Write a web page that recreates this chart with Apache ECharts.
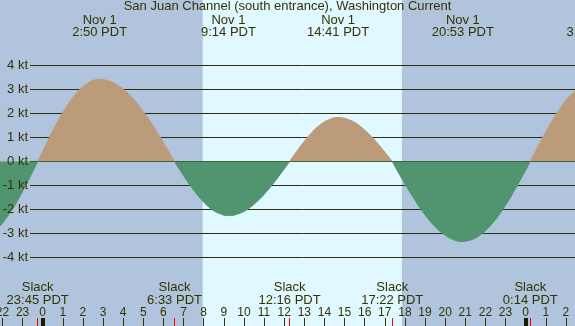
<!DOCTYPE html>
<html lang="en">
<head>
    <meta charset="UTF-8">
    <title>San Juan Channel Current</title>
    <script src="https://cdn.jsdelivr.net/npm/echarts@6.0.0/dist/echarts.min.js"></script>
    <style>
        html, body { margin: 0; padding: 0; background: #b0c4de; }
    </style>
</head>
<body>
<div id="main" style="width:575px;height:326px;"></div>
<script>
    // hours from local midnight Nov 1, current speed in knots
    var hours = [-2.5, -2.12, -2.0, -1.5, -1.0, -0.5, -0.25, 0, 0.5, 1, 1.5, 2, 2.5, 2.83, 3, 3.5, 4, 4.5, 5, 5.5, 6, 6.55,
        7, 7.5, 8, 8.5, 9, 9.23, 9.5, 10, 10.5, 11, 11.5, 12, 12.27, 12.5, 13, 13.5, 14, 14.5, 14.68, 15, 15.5, 16, 16.5, 17,
        17.37, 17.5, 18, 18.5, 19, 19.5, 20, 20.5, 20.88, 21, 21.5, 22, 22.5, 23, 23.5, 24, 24.23, 24.5, 25, 25.5, 26, 26.5];
    var speed = [-2.98, -2.68, -2.57, -1.98, -1.24, -0.43, 0, 0.43, 1.28, 2.03, 2.66, 3.12, 3.37, 3.42, 3.41, 3.28, 3.01, 2.61, 2.08, 1.47, 0.79, 0,
        -0.59, -1.19, -1.69, -2.05, -2.23, -2.25, -2.23, -2.08, -1.78, -1.37, -0.87, -0.31, 0, 0.28, 0.84, 1.32, 1.65, 1.82, 1.83, 1.80, 1.63, 1.31, 0.89, 0.39,
        0, -0.20, -0.93, -1.61, -2.22, -2.71, -3.07, -3.28, -3.33, -3.32, -3.19, -2.88, -2.42, -1.82, -1.12, -0.36, 0, 0.44, 1.23, 1.94, 2.54, 2.98];

    // slack water
    var slackHours = [-0.25, 6.55, 12.27, 17.37, 24.23];
    var slackTimes = ['23:45', '6:33', '12:16', '17:22', '0:14'];

    // max flood / ebb
    var peakHours = [2.83, 9.23, 14.68, 20.88, 27.4];
    var peakDays = ['Nov 1', 'Nov 1', 'Nov 1', 'Nov 1', 'Nov 2'];
    var peakTimes = ['2:50', '9:14', '14:41', '20:53', '3:24'];

    // daylight
    var sunrise = 7.95;
    var sunset = 17.85;

    var hourTicks = [-2, -1, 0, 1, 2, 3, 4, 5, 6, 7, 8, 9, 10, 11, 12, 13, 14, 15, 16, 17, 18, 19, 20, 21, 22, 23, 24, 25, 26];
    var midnights = [0, 24];

    var textColor = '#333300';
    var font = 'Liberation Sans';

    function nearest(arr, v) {
        var best = 0;
        for (var i = 1; i < arr.length; i++) {
            if (Math.abs(arr[i] - v) < Math.abs(arr[best] - v)) best = i;
        }
        return best;
    }

    var myChart = echarts.init(document.getElementById('main'));

    var data = hours.map(function (h, i) { return [h, speed[i]]; });

    // all x axes of the main grid share one scale
    function timeAxis(extra) {
        var ax = {
            type: 'value', gridIndex: 0, min: -4.11, max: 28.44, position: 'bottom',
            splitLine: {show: false}, axisLine: {show: false, onZero: false}
        };
        for (var k in extra) ax[k] = extra[k];
        return ax;
    }

    var option = {
        backgroundColor: '#b0c4de',
        animation: false,
        title: {
            text: 'San Juan Channel (south entrance), Washington Current',
            left: 'center',
            top: 0,
            padding: 0,
            textStyle: {fontFamily: font, fontSize: 13, fontWeight: 'normal', color: textColor}
        },
        grid: [
            {left: -40, right: -40, top: 0, bottom: 0, outerBoundsMode: 'none', containLabel: false},
            {left: 30, right: 0, top: 65, height: 192, outerBoundsMode: 'none', containLabel: false}
        ],
        visualMap: {
            show: false,
            type: 'piecewise',
            dimension: 1,
            seriesIndex: 0,
            pieces: [
                {gt: 0, lte: 20, color: '#bc9b7b'},
                {gte: -20, lte: 0, color: '#519470'}
            ]
        },
        xAxis: [
            timeAxis({   // hour labels
                axisTick: {inside: true, length: 8, customValues: hourTicks, lineStyle: {color: textColor, width: 1}},
                axisLabel: {
                    inside: true, margin: 7.5, customValues: hourTicks,
                    fontFamily: font, fontSize: 12, color: textColor,
                    formatter: function (v) { return String((v + 24) % 24); }
                }
            }),
            timeAxis({   // slack labels
                axisTick: {inside: true, length: 8, customValues: slackHours, lineStyle: {color: '#ff0000', width: 1}},
                axisLabel: {
                    inside: true, margin: 19.5, customValues: slackHours,
                    fontFamily: font, fontSize: 13, lineHeight: 13, color: textColor,
                    formatter: function (v) { return 'Slack\n' + slackTimes[nearest(slackHours, v)] + ' PDT'; }
                }
            }),
            timeAxis({   // midnight marks
                axisLabel: {show: false},
                axisTick: {inside: true, length: 8, customValues: midnights, lineStyle: {color: '#1a1a00', width: 4}}
            }),
            timeAxis({   // max current labels
                position: 'top',
                axisTick: {show: false},
                axisLabel: {
                    inside: true, margin: 14, customValues: peakHours,
                    fontFamily: font, fontSize: 13, lineHeight: 12.5, color: textColor,
                    formatter: function (v) {
                        var i = nearest(peakHours, v);
                        return peakDays[i] + '\n' + peakTimes[i] + ' PDT';
                    }
                }
            }),
            {type: 'value', gridIndex: 1, min: 0, max: 1, show: false}
        ],
        yAxis: [
            {type: 'value', gridIndex: 0, min: -6.84, max: 6.715, show: false},
            {   // grid lines, under the current
                type: 'value', gridIndex: 1, min: -4, max: 4, interval: 1, position: 'right',
                axisLine: {show: false}, axisTick: {show: false}, axisLabel: {show: false},
                splitLine: {lineStyle: {color: '#2e2e10', width: 1}}
            },
            {   // knot labels, over the current
                type: 'value', gridIndex: 1, min: -4, max: 4, interval: 1, position: 'left', z: 10,
                axisLine: {show: false}, axisTick: {show: false}, splitLine: {show: false},
                axisLabel: {
                    margin: 2, fontFamily: font, fontSize: 13, color: textColor,
                    formatter: '{value} kt'
                }
            }
        ],
        series: [
            {
                type: 'line',
                xAxisIndex: 0,
                yAxisIndex: 0,
                data: data,
                smooth: 0.3,
                showSymbol: false,
                lineStyle: {width: 1},
                areaStyle: {opacity: 1},
                z: 2,
                markArea: {
                    silent: true,
                    z: -1,
                    itemStyle: {color: '#e0f8ff'},
                    data: [[{xAxis: sunrise}, {xAxis: sunset}]]
                }
            }
        ]
    };

    myChart.setOption(option);
</script>
</body>
</html>
